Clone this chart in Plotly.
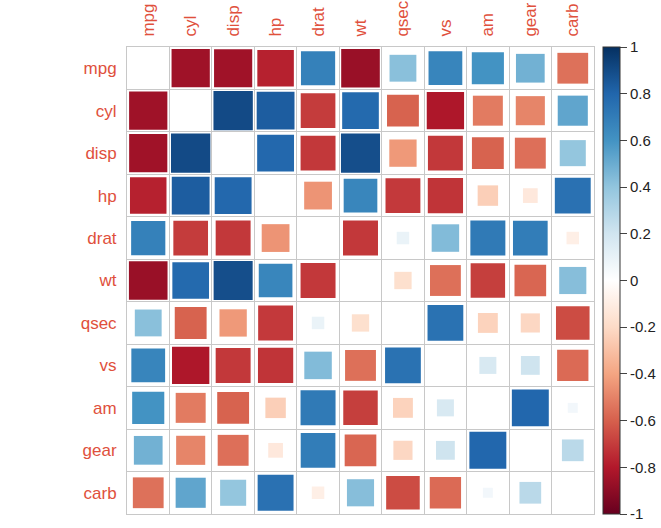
import plotly.graph_objects as go
import numpy as np

variables = ["mpg", "cyl", "disp", "hp", "drat", "wt", "qsec", "vs", "am", "gear", "carb"]

# upper-triangle correlations (mtcars), row by row
corr_mpg = [-0.852, -0.848, -0.776, 0.681, -0.868, 0.419, 0.664, 0.600, 0.480, -0.551]
corr_cyl = [0.902, 0.832, -0.700, 0.782, -0.591, -0.811, -0.523, -0.493, 0.527]
corr_disp = [0.791, -0.710, 0.888, -0.434, -0.710, -0.591, -0.556, 0.395]
corr_hp = [-0.449, 0.659, -0.708, -0.723, -0.243, -0.126, 0.750]
corr_drat = [-0.712, 0.091, 0.440, 0.713, 0.700, -0.091]
corr_wt = [-0.175, -0.555, -0.692, -0.583, 0.428]
corr_qsec = [0.745, -0.230, -0.213, -0.656]
corr_vs = [0.168, 0.206, -0.570]
corr_am = [0.794, 0.058]
corr_gear = [0.274]

upper_rows = [corr_mpg, corr_cyl, corr_disp, corr_hp, corr_drat, corr_wt,
              corr_qsec, corr_vs, corr_am, corr_gear]

n = len(variables)
M = np.full((n, n), np.nan)
for i, row in enumerate(upper_rows):
    for k, v in enumerate(row):
        j = i + 1 + k
        M[i, j] = v
        M[j, i] = v

palette = ["#67001F", "#B2182B", "#D6604D", "#F4A582", "#FDDBC7", "#FFFFFF",
           "#D1E5F0", "#92C5DE", "#4393C3", "#2166AC", "#053061"]
colorscale = [[k / (len(palette) - 1), c] for k, c in enumerate(palette)]

xs, ys, vals = [], [], []
for i in range(n):
    for j in range(n):
        if not np.isnan(M[i, j]):
            xs.append(j)
            ys.append(i)
            vals.append(M[i, j])
vals = np.array(vals)

W, H = 661, 528
ml, mr, mt, mb = 127, 67, 47, 14
plot_w = W - ml - mr
cell = plot_w / n
sizes = np.sqrt(np.abs(vals)) * (cell - 1.0)

label_col = "#e0503c"
grid_col = "#c8c8c8"
bounds = [k - 0.5 for k in range(n + 1)]

fig = go.Figure()
fig.add_trace(go.Scatter(
    x=xs, y=ys, mode="markers",
    marker=dict(symbol="square", size=sizes, color=vals, cmin=-1, cmax=1,
                colorscale=colorscale, line=dict(width=0), opacity=1,
                showscale=True,
                colorbar=dict(
                    thickness=17, len=plot_w, lenmode="pixels",
                    x=(603 - ml) / plot_w, xanchor="left", xpad=0,
                    y=0.5, yanchor="middle", ypad=0,
                    tickvals=[-1, -0.8, -0.6, -0.4, -0.2, 0, 0.2, 0.4, 0.6, 0.8, 1],
                    ticktext=["-1", "-0.8", "-0.6", "-0.4", "-0.2", "0", "0.2", "0.4", "0.6", "0.8", "1"],
                    ticks="outside", ticklen=7, tickcolor="#444",
                    tickfont=dict(family="Liberation Sans, Arial", size=15, color="#222"),
                    outlinewidth=1, outlinecolor="#333",
                )),
    opacity=1,
    hovertemplate="%{text}<extra></extra>",
    text=[f"{variables[y]} / {variables[x]}: {v:.3f}" for x, y, v in zip(xs, ys, vals)],
))

axis_common = dict(
    tickmode="array", tickvals=list(range(n)), ticktext=variables,
    showgrid=False, zeroline=False, automargin=False,
    showline=True, mirror=True, linecolor=grid_col, linewidth=1,
    ticks="", ticklen=0, ticklabelstandoff=6,
    tickfont=dict(family="Liberation Sans, Arial", size=17, color=label_col),
    minor=dict(tickvals=bounds, showgrid=True, gridcolor=grid_col, gridwidth=1, ticks=""),
    fixedrange=True,
)

fig.update_layout(
    width=W, height=H,
    margin=dict(l=ml, r=mr, t=mt, b=mb, pad=0, autoexpand=False),
    paper_bgcolor="white", plot_bgcolor="white",
    showlegend=False,
    xaxis=dict(range=[-0.5, n - 0.5], side="top", tickangle=-90, **axis_common),
    yaxis=dict(range=[n - 0.5, -0.5], **axis_common),
)

fig.write_html("out.html")
